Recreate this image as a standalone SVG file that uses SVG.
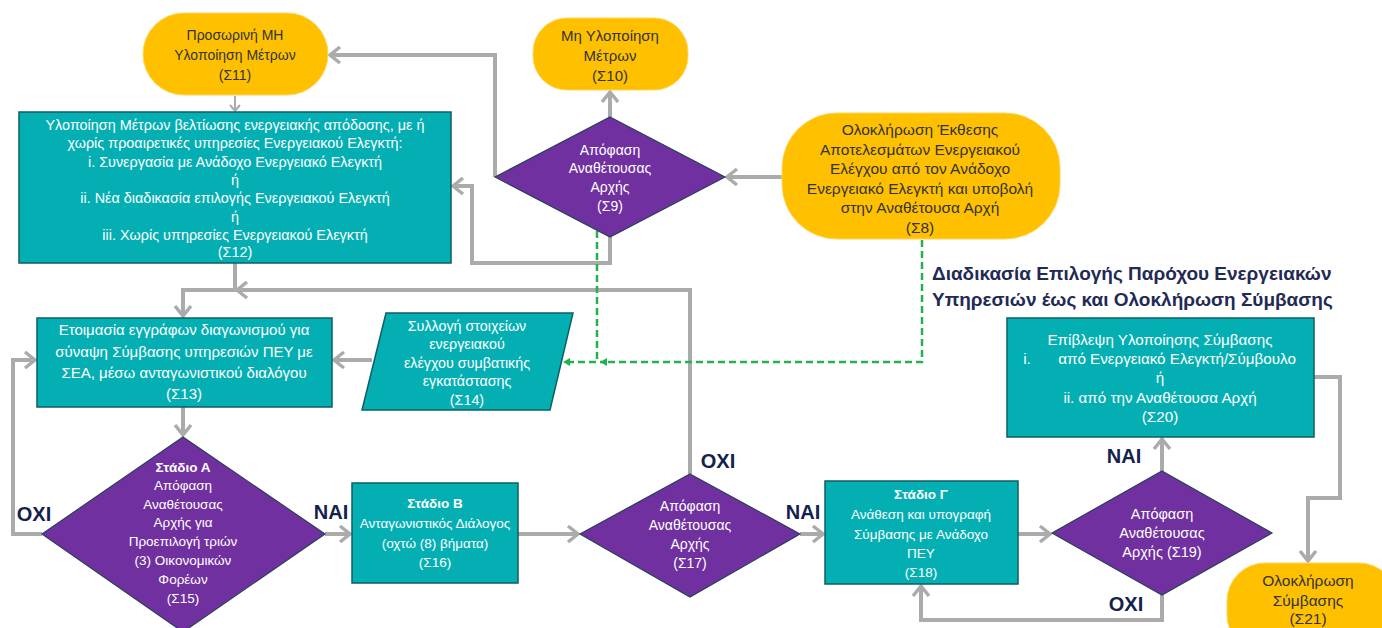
<svg xmlns="http://www.w3.org/2000/svg" width="1382" height="628" viewBox="0 0 1382 628">
<defs>
<style>
.t{font-family:"Liberation Sans","Noto Sans",sans-serif;font-size:13.5px;text-anchor:middle;dominant-baseline:central}
.w{fill:#ffffff}
.d{fill:#333333}
.b{font-weight:bold}
.teal{fill:#04AFB4;stroke:#0E5F63;stroke-width:1.5}
.pur{fill:#7030A0;stroke:#2A3F5A;stroke-width:1.2}
.gold{fill:#FFC000;stroke:#FFD65C;stroke-width:1}
.c{fill:none;stroke:#ABABAB;stroke-width:4;marker-end:url(#ah)}
.g{fill:none;stroke:#21B24B;stroke-width:2.5;stroke-dasharray:7 4;marker-end:url(#gh)}
.lab{font-family:"Liberation Sans","Noto Sans",sans-serif;font-size:20px;font-weight:bold;fill:#14214D;text-anchor:middle;dominant-baseline:central}
.hd{font-family:"Liberation Sans","Noto Sans",sans-serif;font-size:19px;font-weight:bold;fill:#1F2A55}
</style>
<marker id="ah" markerWidth="20" markerHeight="20" refX="14" refY="10" orient="auto" markerUnits="userSpaceOnUse">
<path d="M4,2 L14,10 L4,18" fill="none" stroke="#ABABAB" stroke-width="3.5"/>
</marker>
<marker id="ahs" markerWidth="12" markerHeight="12" refX="9" refY="6" orient="auto" markerUnits="userSpaceOnUse">
<path d="M3,1 L9,6 L3,11" fill="none" stroke="#ABABAB" stroke-width="2"/>
</marker>
<marker id="gh" markerWidth="10" markerHeight="10" refX="8" refY="5" orient="auto" markerUnits="userSpaceOnUse">
<path d="M1,1 L8,5 L1,9 Z" fill="#21B24B"/>
</marker>
</defs>

<g id="connectors">
<path d="M235,96 V111" fill="none" stroke="#ABABAB" stroke-width="2" marker-end="url(#ahs)"/>
<path class="c" d="M495,177 V55 H330"/>
<path class="c" d="M610,117 V92"/>
<path class="c" d="M782,177 H727"/>
<path class="c" d="M610,237 V263 H472 V186 H453"/>
<path class="c" d="M235,263 V290 H183 V316"/>
<path class="c" d="M690,474 V290 H237"/>
<path class="c" d="M183,407 V435"/>
<path class="c" d="M372,360 H334"/>
<path class="c" d="M42,534 H13 V360 H35"/>
<path class="c" d="M325,534 H350"/>
<path class="c" d="M518,534 H578"/>
<path class="c" d="M800,534 H823"/>
<path class="c" d="M1018,534 H1050"/>
<path class="c" d="M1162,471 V439"/>
<path class="c" d="M1162,595 V620 H921 V586"/>
<path class="c" d="M1314,377 H1340 V498 H1308 V561"/>
<path class="g" d="M922,240 V362 H600"/>
<path class="g" d="M597,231 V362 H563"/>
</g>

<g id="labels">
<text class="lab" x="34" y="514">ΟΧΙ</text>
<text class="lab" x="331" y="512">ΝΑΙ</text>
<text class="lab" x="718" y="461">ΟΧΙ</text>
<text class="lab" x="803" y="512">ΝΑΙ</text>
<text class="lab" x="1124" y="456">ΝΑΙ</text>
<text class="lab" x="1126" y="604">ΟΧΙ</text>
</g>

<g id="heading">
<text class="hd" x="932" y="280">Διαδικασία Επιλογής Παρόχου Ενεργειακών</text>
<text class="hd" x="932" y="306">Υπηρεσιών έως και Ολοκλήρωση Σύμβασης</text>
</g>

<g id="S11">
<rect class="gold" x="143" y="13" width="185" height="82" rx="41"/>
<text class="t d" style="font-size:14px"><tspan x="235" y="35">Προσωρινή ΜΗ</tspan><tspan x="235" y="55">Υλοποίηση Μέτρων</tspan><tspan x="235" y="75">(Σ11)</tspan></text>
</g>

<g id="S10">
<rect class="gold" x="533" y="18" width="155" height="72" rx="34"/>
<text class="t d" style="font-size:15px"><tspan x="610" y="35">Μη Υλοποίηση</tspan><tspan x="610" y="55">Μέτρων</tspan><tspan x="610" y="75">(Σ10)</tspan></text>
</g>

<g id="S9">
<polygon class="pur" points="610,117 725,177 610,237 495,177"/>
<text class="t w" style="font-size:14px"><tspan x="610" y="150">Απόφαση</tspan><tspan x="610" y="168">Αναθέτουσας</tspan><tspan x="610" y="187">Αρχής</tspan><tspan x="610" y="206">(Σ9)</tspan></text>
</g>

<g id="S8">
<rect class="gold" x="782" y="113" width="278" height="126" rx="55"/>
<text class="t d" style="font-size:15.5px"><tspan x="920" y="129">Ολοκλήρωση Έκθεσης</tspan><tspan x="920" y="149">Αποτελεσμάτων Ενεργειακού</tspan><tspan x="920" y="168">Ελέγχου από τον Ανάδοχο</tspan><tspan x="920" y="188">Ενεργειακό Ελεγκτή και υποβολή</tspan><tspan x="920" y="207">στην Αναθέτουσα Αρχή</tspan><tspan x="920" y="227">(Σ8)</tspan></text>
</g>

<g id="S12">
<rect class="teal" x="19" y="112" width="432" height="151"/>
<text class="t w" style="font-size:14.4px"><tspan x="235" y="125">Υλοποίηση Μέτρων βελτίωσης ενεργειακής απόδοσης, με ή</tspan><tspan x="235" y="143">χωρίς προαιρετικές υπηρεσίες Ενεργειακού Ελεγκτή:</tspan><tspan x="235" y="162">i. Συνεργασία με Ανάδοχο Ενεργειακό Ελεγκτή</tspan><tspan x="235" y="180">ή</tspan><tspan x="235" y="198">ii. Νέα διαδικασία επιλογής Ενεργειακού Ελεγκτή</tspan><tspan x="235" y="217">ή</tspan><tspan x="235" y="235">iii. Χωρίς υπηρεσίες Ενεργειακού Ελεγκτή</tspan><tspan x="235" y="252">(Σ12)</tspan></text>
</g>

<g id="S13">
<rect class="teal" x="37" y="318" width="295" height="89"/>
<text class="t w" style="font-size:15px"><tspan x="184" y="329">Ετοιμασία εγγράφων διαγωνισμού για</tspan><tspan x="184" y="351">σύναψη Σύμβασης υπηρεσιών ΠΕΥ με</tspan><tspan x="184" y="372">ΣΕΑ, μέσω ανταγωνιστικού διαλόγου</tspan><tspan x="184" y="393">(Σ13)</tspan></text>
</g>

<g id="S14">
<polygon class="teal" points="386,313 573,313 550,410 362,410"/>
<text class="t w" style="font-size:14.3px"><tspan x="467" y="326">Συλλογή στοιχείων</tspan><tspan x="467" y="344">ενεργειακού</tspan><tspan x="467" y="363">ελέγχου συμβατικής</tspan><tspan x="467" y="381">εγκατάστασης</tspan><tspan x="467" y="400">(Σ14)</tspan></text>
</g>

<g id="S15">
<polygon class="pur" points="183,437 325,534 183,632 42,534"/>
<text class="t w"><tspan x="183" y="467" class="b">Στάδιο Α</tspan><tspan x="183" y="485">Απόφαση</tspan><tspan x="183" y="504">Αναθέτουσας</tspan><tspan x="183" y="522">Αρχής για</tspan><tspan x="183" y="541">Προεπιλογή τριών</tspan><tspan x="183" y="560">(3) Οικονομικών</tspan><tspan x="183" y="579">Φορέων</tspan><tspan x="183" y="598">(Σ15)</tspan></text>
</g>

<g id="S16">
<rect class="teal" x="352" y="483" width="166" height="100"/>
<text class="t w"><tspan x="435" y="503" class="b">Στάδιο Β</tspan><tspan x="435" y="523">Ανταγωνιστικός Διάλογος</tspan><tspan x="435" y="543">(οχτώ (8) βήματα)</tspan><tspan x="435" y="562">(Σ16)</tspan></text>
</g>

<g id="S17">
<polygon class="pur" points="690,474 800,534 690,597 580,534"/>
<text class="t w" style="font-size:14px"><tspan x="690" y="506">Απόφαση</tspan><tspan x="690" y="525">Αναθέτουσας</tspan><tspan x="690" y="544">Αρχής</tspan><tspan x="690" y="563">(Σ17)</tspan></text>
</g>

<g id="S18">
<rect class="teal" x="825" y="481" width="193" height="103"/>
<text class="t w"><tspan x="921" y="494" class="b">Στάδιο Γ</tspan><tspan x="921" y="514">Ανάθεση και υπογραφή</tspan><tspan x="921" y="534">Σύμβασης με Ανάδοχο</tspan><tspan x="921" y="553">ΠΕΥ</tspan><tspan x="921" y="572">(Σ18)</tspan></text>
</g>

<g id="S19">
<polygon class="pur" points="1162,471 1272,533 1162,595 1052,533"/>
<text class="t w" style="font-size:14.5px"><tspan x="1162" y="514">Απόφαση</tspan><tspan x="1162" y="533">Αναθέτουσας</tspan><tspan x="1162" y="552">Αρχής (Σ19)</tspan></text>
</g>

<g id="S20">
<rect class="teal" x="1007" y="318" width="307" height="119"/>
<text class="t w" style="font-size:15.2px"><tspan x="1160" y="339">Επίβλεψη Υλοποίησης Σύμβασης</tspan><tspan x="1027" y="358">i.</tspan><tspan x="1177" y="358">από Ενεργειακό Ελεγκτή/Σύμβουλο</tspan><tspan x="1160" y="377">ή</tspan><tspan x="1160" y="397">ii. από την Αναθέτουσα Αρχή</tspan><tspan x="1160" y="416">(Σ20)</tspan></text>
</g>

<g id="S21">
<rect class="gold" x="1227" y="563" width="170" height="90" rx="38"/>
<text class="t d" style="font-size:15.5px"><tspan x="1308" y="580">Ολοκλήρωση</tspan><tspan x="1308" y="600">Σύμβασης</tspan><tspan x="1308" y="618">(Σ21)</tspan></text>
</g>
</svg>
